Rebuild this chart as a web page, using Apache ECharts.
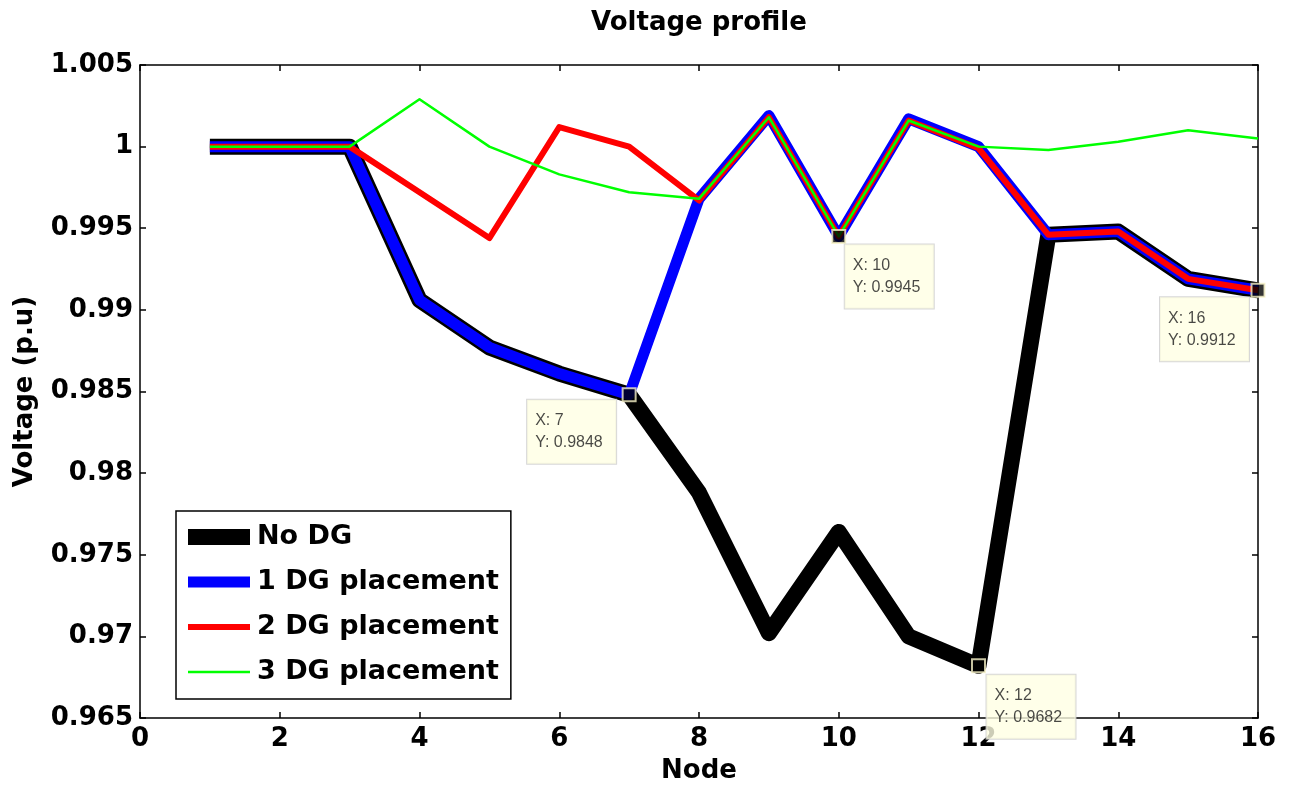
<!DOCTYPE html>
<html>
<head>
<meta charset="utf-8">
<title>Voltage profile</title>
<script src="https://cdn.jsdelivr.net/npm/echarts@6/dist/echarts.min.js"></script>
<style>
  html, body { margin: 0; padding: 0; background: #fff; }
  #chart { width: 1294px; height: 794px; }
</style>
</head>
<body>
<div id="chart"></div>
<script>
// Bus voltages (p.u.) along the 16-node feeder for each DG scenario
const nodes = [1, 2, 3, 4, 5, 6, 7, 8, 9, 10, 11, 12, 13, 14, 15, 16];
const noDG  = [1.0000, 1.0000, 1.0000, 0.9906, 0.9877, 0.9861, 0.9848, 0.9788, 0.9702, 0.9764, 0.9700, 0.9682, 0.9946, 0.9948, 0.9919, 0.9912];
const dg1   = [1.0000, 1.0000, 1.0000, 0.9906, 0.9877, 0.9861, 0.9848, 0.9968, 1.0019, 0.9945, 1.0017, 1.0000, 0.9946, 0.9948, 0.9919, 0.9912];
const dg2   = [1.0000, 1.0000, 1.0000, 0.9972, 0.9944, 1.0012, 1.0000, 0.9967, 1.0018, 0.9945, 1.0016, 0.9999, 0.9946, 0.9948, 0.9919, 0.9912];
const dg3   = [1.0000, 1.0000, 1.0000, 1.0029, 1.0000, 0.9983, 0.9972, 0.9968, 1.0018, 0.9945, 1.0016, 1.0000, 0.9998, 1.0003, 1.0010, 1.0005];

const seriesNames = ['No DG', '1 DG placement', '2 DG placement', '3 DG placement'];
const seriesColors = ['#000000', '#0000ff', '#ff0000', '#00ff00'];
const seriesWidths = [16, 11, 6, 2.5];

// Data tips: which series and which node each one reads
const tipSeries = [noDG, dg1, noDG, noDG];
const tipNodes  = [7, 10, 12, 16];

const boldFont = 'DejaVu Sans';
const axisLineStyle = { color: '#000', width: 1.5 };

function pairs(values) {
  return nodes.map((n, i) => [n, values[i]]);
}

function lineSeries(idx, values) {
  const color = seriesColors[idx];
  return {
    name: seriesNames[idx],
    type: 'line',
    data: pairs(values),
    symbol: 'none',
    clip: false,
    z: 2 + idx,
    lineStyle: { color: color, width: seriesWidths[idx], join: 'round', cap: 'butt' },
    itemStyle: { color: color },
    emphasis: { disabled: true }
  };
}

// legend swatch: a bar as thick as the series line
function swatch(idx) {
  return 'path://M0,0h62v' + seriesWidths[idx] + 'h-62z';
}

// tip box offsets from the marker's bounding box (box content width is fixed)
const tipOffsets = [[-94.5, 12.5], [13.5, 15.5], [15.5, 16.5], [-90.5, 14.5]];

const tipData = tipNodes.map((n, k) => {
  const v = tipSeries[k][nodes.indexOf(n)];
  return {
    value: [n, v],
    label: { position: tipOffsets[k], align: 'left', verticalAlign: 'top' }
  };
});

const chart = echarts.init(document.getElementById('chart'), null, { renderer: 'canvas' });

chart.setOption({
  animation: false,
  backgroundColor: '#fff',
  title: {
    text: 'Voltage profile',
    left: 586,
    top: 5,
    textStyle: { fontFamily: boldFont, fontWeight: 'bold', fontSize: 26, color: '#000' }
  },
  grid: { left: 140, right: 36, top: 65, bottom: 76, containLabel: false },
  legend: {
    orient: 'vertical',
    left: 176,
    top: 511,
    data: seriesNames.map((name, i) => ({ name: name, icon: swatch(i), itemStyle: { color: seriesColors[i] } })),
    itemWidth: 62,
    itemHeight: 18,
    itemGap: 15,
    symbolKeepAspect: true,
    padding: [11, 12, 12, 12],
    borderColor: '#000',
    borderWidth: 1.5,
    backgroundColor: '#fff',
    selectedMode: false,
    textStyle: { fontFamily: boldFont, fontWeight: 'bold', fontSize: 27, color: '#000', lineHeight: 30, padding: [0, 0, 0, 2] }
  },
  xAxis: [
    {
      type: 'value', min: 0, max: 16, interval: 2, position: 'bottom',
      name: 'Node', nameLocation: 'middle', nameGap: 40,
      nameTextStyle: { fontFamily: boldFont, fontWeight: 'bold', fontSize: 26, color: '#000' },
      axisLine: { show: true, onZero: false, lineStyle: axisLineStyle },
      axisTick: { show: true, inside: true, length: 6, lineStyle: axisLineStyle },
      axisLabel: { show: true, margin: 8, fontFamily: boldFont, fontWeight: 'bold', fontSize: 26, color: '#000', showMinLabel: true, showMaxLabel: true },
      splitLine: { show: false }
    },
    {
      type: 'value', min: 0, max: 16, interval: 2, position: 'top',
      axisLine: { show: true, onZero: false, lineStyle: axisLineStyle },
      axisTick: { show: true, inside: true, length: 6, lineStyle: axisLineStyle },
      axisLabel: { show: false },
      splitLine: { show: false }
    }
  ],
  yAxis: [
    {
      type: 'value', min: 0.965, max: 1.005, interval: 0.005, position: 'left',
      name: 'Voltage (p.u)', nameLocation: 'middle', nameGap: 102, nameRotate: 90,
      nameTextStyle: { fontFamily: boldFont, fontWeight: 'bold', fontSize: 26, color: '#000' },
      axisLine: { show: true, onZero: false, lineStyle: axisLineStyle },
      axisTick: { show: true, inside: true, length: 6, lineStyle: axisLineStyle },
      axisLabel: {
        show: true, margin: 7, fontFamily: boldFont, fontWeight: 'bold', fontSize: 26, color: '#000',
        showMinLabel: true, showMaxLabel: true,
        formatter: v => String(parseFloat(v.toFixed(3)))
      },
      splitLine: { show: false }
    },
    {
      type: 'value', min: 0.965, max: 1.005, interval: 0.005, position: 'right',
      axisLine: { show: true, onZero: false, lineStyle: axisLineStyle },
      axisTick: { show: true, inside: true, length: 6, lineStyle: axisLineStyle },
      axisLabel: { show: false },
      splitLine: { show: false }
    }
  ],
  series: [
    lineSeries(0, noDG),
    lineSeries(1, dg1),
    lineSeries(2, dg2),
    lineSeries(3, dg3),
    {
      name: 'datatips',
      type: 'scatter',
      data: tipData,
      z: 10,
      clip: false,
      symbol: 'rect',
      symbolSize: 13,
      itemStyle: { color: '#000', borderColor: '#f8f2c8', borderWidth: 2 },
      emphasis: { disabled: true },
      label: {
        show: true,
        formatter: p => 'X: ' + p.value[0] + '\nY: ' + p.value[1].toFixed(4),
        fontFamily: 'Liberation Sans',
        fontSize: 16,
        lineHeight: 22,
        width: 72,
        align: 'left',
        color: '#1a1a1a',
        backgroundColor: '#ffffe3',
        borderColor: '#cdcdcd',
        borderWidth: 1,
        padding: [10, 9, 10, 8]
      }
    }
  ]
});
</script>
</body>
</html>
